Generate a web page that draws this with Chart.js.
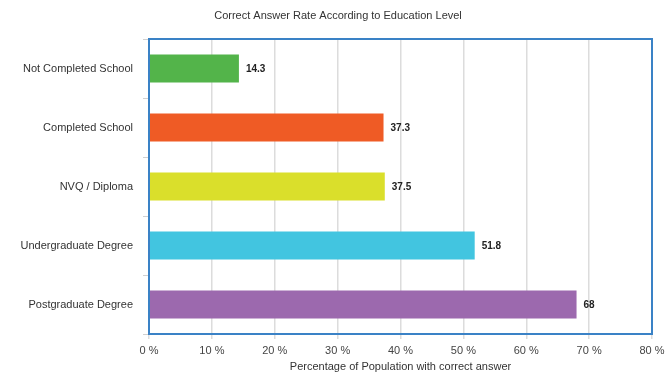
<!DOCTYPE html>
<html>
<head>
<meta charset="utf-8">
<script src="https://cdn.jsdelivr.net/npm/chart.js@4"></script>
<style>
html,body{margin:0;padding:0;background:#fff;}
#wrap{width:665px;height:378px;position:relative;}
</style>
</head>
<body>
<div id="wrap"><canvas id="c" width="665" height="378"></canvas></div>
<script>
const categories = ["Not Completed School", "Completed School", "NVQ / Diploma", "Undergraduate Degree", "Postgraduate Degree"];
const values = [14.3, 37.3, 37.5, 51.8, 68];
const barColors = ["#53b44a", "#ef5b25", "#dadf2b", "#42c5e0", "#9c69ae"];
const xTicks = [0, 10, 20, 30, 40, 50, 60, 70, 80];
const chartTitle = "Correct Answer Rate According to Education Level";
const xAxisTitle = "Percentage of Population with correct answer";

const FONT = "'Liberation Sans', Arial, sans-serif";

const borderPlugin = {
  id: 'plotBorder',
  afterDraw(chart) {
    const a = chart.chartArea, ctx = chart.ctx;
    ctx.save();
    ctx.strokeStyle = '#3a82c6';
    ctx.lineWidth = 2;
    ctx.strokeRect(a.left, a.top, a.right - a.left, a.bottom - a.top);
    // title
    ctx.font = "11px " + FONT;
    ctx.fillStyle = '#333';
    ctx.textAlign = 'center';
    ctx.textBaseline = 'middle';
    ctx.fillText(chartTitle, 338, 15.5);
    ctx.restore();
  }
};

const labelPlugin = {
  id: 'valueLabels',
  afterDatasetsDraw(chart) {
    const ctx = chart.ctx;
    const meta = chart.getDatasetMeta(0);
    ctx.save();
    ctx.font = "bold 10px " + FONT;
    ctx.fillStyle = '#222';
    ctx.textAlign = 'left';
    ctx.textBaseline = 'middle';
    meta.data.forEach((bar, i) => {
      ctx.fillText(String(values[i]), bar.x + 7, bar.y + 1);
    });
    ctx.restore();
  }
};

new Chart(document.getElementById('c'), {
  type: 'bar',
  data: {
    labels: categories,
    datasets: [{
      data: values,
      backgroundColor: barColors,
      borderWidth: 0,
      barPercentage: 0.475,
      categoryPercentage: 1
    }]
  },
  options: {
    indexAxis: 'y',
    responsive: false,
    animation: false,
    devicePixelRatio: 1,
    layout: { padding: { left: 0, right: 13, top: 39, bottom: 0 } },
    plugins: {
      legend: { display: false },
      tooltip: { enabled: false },
      title: { display: false }
    },
    scales: {
      x: {
        min: 0,
        max: 80,
        afterBuildTicks(scale) { scale.ticks = xTicks.map(v => ({ value: v })); },
        afterFit(scale) { scale.height = 44; scale.paddingLeft = 0; scale.paddingRight = 0; },
        grid: { color: '#dcdcdc', lineWidth: 1.5, tickLength: 5, drawTicks: true },
        border: { display: false },
        ticks: {
          color: '#444',
          padding: 5,
          maxRotation: 0,
          font: { family: FONT, size: 11 },
          callback: (v) => v + ' %'
        },
        title: {
          display: true,
          text: xAxisTitle,
          color: '#333',
          font: { family: FONT, size: 11 },
          padding: { top: 1, bottom: 4 }
        }
      },
      y: {
        afterFit(scale) { scale.width = 149; scale.paddingTop = 0; scale.paddingBottom = 0; },
        grid: { drawOnChartArea: false, color: '#d0d0d0', tickLength: 6, offset: true },
        border: { display: false },
        ticks: {
          color: '#333',
          padding: 10,
          font: { family: FONT, size: 11 }
        }
      }
    }
  },
  plugins: [borderPlugin, labelPlugin]
});
</script>
</body>
</html>
